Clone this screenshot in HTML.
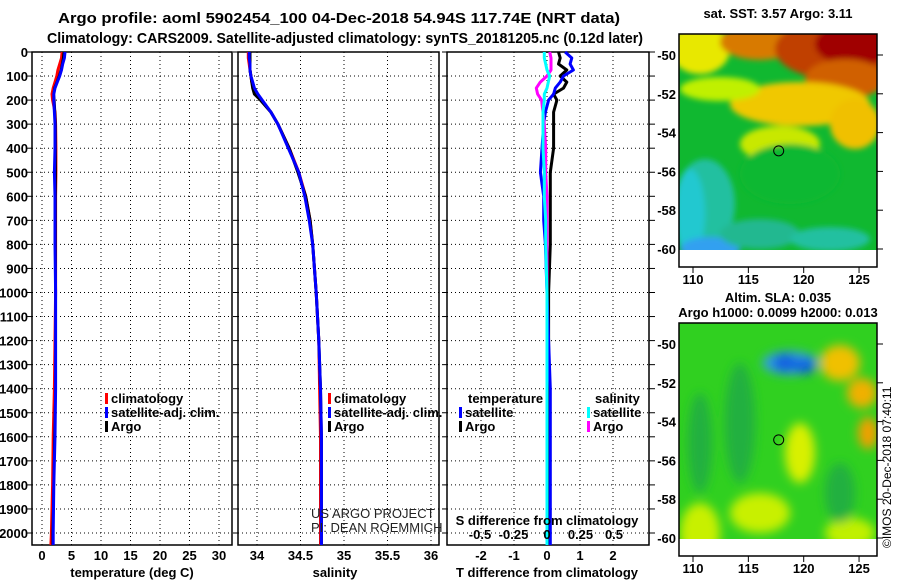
<!DOCTYPE html>
<html><head><meta charset="utf-8"><style>
html,body{margin:0;padding:0;background:#fff;}
svg{display:block;font-family:"Liberation Sans",sans-serif;}
.t{font-weight:bold;font-size:15px;fill:#000;}
.tk{font-weight:bold;font-size:13px;fill:#000;}
</style></head><body>
<svg id="c" width="900" height="580" viewBox="0 0 900 580">
<text class="t" x="58" y="23" textLength="562" lengthAdjust="spacingAndGlyphs">Argo profile: aoml 5902454_100 04-Dec-2018 54.94S 117.74E (NRT data)</text>
<text class="t" x="47" y="43" textLength="596" lengthAdjust="spacingAndGlyphs">Climatology: CARS2009. Satellite-adjusted climatology: synTS_20181205.nc (0.12d later)</text>
<g id="maps"></g>
<g id="plots"></g>
<text x="891" y="548" transform="rotate(-90 891 548)" font-size="12">©IMOS 20-Dec-2018 07:40:11</text>
</svg>
<script>
// ---- data ----
const depths = [0,25,50,75,100,125,150,175,200,250,300,400,500,600,700,800,1000,1200,1400,1600,1800,2000,2050];
const tempClim = [3.4,3.3,3.0,2.7,2.5,2.2,1.9,1.7,1.8,2.2,2.3,2.35,2.35,2.3,2.3,2.3,2.3,2.2,2.1,1.9,1.8,1.6,1.5];
const tempSat  = [3.9,3.8,3.5,3.3,3.0,2.6,2.2,2.0,2.0,2.1,2.2,2.2,2.1,2.2,2.2,2.2,2.3,2.3,2.3,2.2,2.0,1.9,1.9];
const tempArgo = [3.7,3.6,3.4,3.2,2.9,2.5,2.1,2.0,2.1,2.2,2.3,2.3,2.3,2.3,2.3,2.3,2.3,2.3,2.3,2.1,2.0,1.8,1.8];
const salClim  = [33.90,33.90,33.91,33.92,33.93,33.94,33.96,34.00,34.05,34.16,34.24,34.37,34.48,34.56,34.61,34.64,34.68,34.71,34.72,34.73,34.73,34.73,34.73];
const salSat   = [33.91,33.91,33.92,33.92,33.93,33.95,33.97,34.01,34.06,34.16,34.24,34.36,34.48,34.55,34.60,34.64,34.68,34.71,34.73,34.74,34.74,34.74,34.74];
const salArgo  = [33.92,33.92,33.92,33.92,33.93,33.94,33.95,33.97,34.04,34.16,34.24,34.37,34.47,34.56,34.61,34.64,34.68,34.71,34.73,34.74,34.74,34.74,34.74];
const dTSat    = [0.55,0.75,0.7,0.8,0.5,0.4,0.25,0.2,0.05,-0.05,-0.1,-0.15,-0.2,-0.1,-0.1,-0.05,0.0,0.05,0.1,0.1,0.1,0.1,0.1];
const dTArgo   = [0.35,0.4,0.35,0.6,0.4,0.6,0.5,0.2,0.3,0.2,0.2,0.2,0.1,0.1,0.1,0.1,0.05,0.05,0.05,0.05,0.05,0.05,0.05];
const dSSat    = [-0.02,-0.02,-0.01,0.0,0.02,0.01,0.0,-0.02,-0.02,-0.03,-0.03,-0.03,-0.02,-0.02,-0.01,-0.01,0.0,0.0,0.0,0.0,0.0,0.0,0.0];
const dSArgo   = [0.02,0.03,0.03,0.03,0.0,-0.05,-0.08,-0.07,-0.04,-0.03,-0.02,-0.01,-0.01,0.0,0.0,0.0,0.0,0.0,0.0,0.0,0.0,0.0,0.0];
const depthTicks = [0,100,200,300,400,500,600,700,800,900,1000,1100,1200,1300,1400,1500,1600,1700,1800,1900,2000];
const tempTicks = [0,5,10,15,20,25,30];
const salTicks = [34,34.5,35,35.5,36];
const salTickLabels = ["34","34.5","35","35.5","36"];
const dTTicks = [-2,-1,0,1,2];
const dSTicks = [-0.5,-0.25,0,0.25,0.5];
const dSTickLabels = ["-0.5","-0.25","0","0.25","0.5"];
const latTicks = [-50,-52,-54,-56,-58,-60];
const lonTicks = [110,115,120,125];

const NS="http://www.w3.org/2000/svg";
const svg=document.getElementById('c');
const plots=document.getElementById('plots');
function mk(tag,attrs,parent,text){const e=document.createElementNS(NS,tag);for(const k in attrs)e.setAttribute(k,attrs[k]);if(text!==undefined)e.textContent=text;(parent||plots).appendChild(e);return e;}
const y=d=>52+d*0.2405;

function panel(name,x0,x1,xs,ticks,labels,showDepth,rightTicks){
  const g=mk('g',{});
  
  
  ticks.forEach(t=>{const X=xs(t);
    const l=mk('line',{x1:X,x2:X,y1:52,y2:545,stroke:'#000','stroke-dasharray':'1 3','stroke-width':1},g);
    });
  depthTicks.forEach(d=>{const Y=y(d);
    const l=mk('line',{x1:x0,x2:x1,y1:Y,y2:Y,stroke:'#000','stroke-dasharray':'1 3','stroke-width':1},g);
    
    const tk=mk('line',{x1:x0-5,x2:x0,y1:Y,y2:Y,stroke:'#000'},g);
    
    if(rightTicks){const t2=mk('line',{x1:x1,x2:x1+6,y1:Y,y2:Y,stroke:'#000'},g);
      }
    if(showDepth){const tx=mk('text',{x:28,y:Y+5,'text-anchor':'end',class:'tk','font-size':'14'},g,String(d));
      }
  });
  if(labels){ticks.forEach((t,i)=>{const tx=mk('text',{x:xs(t),y:560,'text-anchor':'middle',class:'tk'},g,labels[i]);
    });}
  const r=mk('rect',{x:x0,y:52,width:x1-x0,height:493,fill:'none',stroke:'#000','stroke-width':1.5},g);
  
  return g;
}
function line(g,xs,vals,color,w,name){
  const p=vals.map((v,i)=>(i?'L':'M')+xs(v).toFixed(1)+','+y(depths[i]).toFixed(1)).join(' ');
  const e=mk('path',{d:p,fill:'none',stroke:color,'stroke-width':w,'stroke-linejoin':'round'},g);
  
}
function legend(g,x,y0,items,prefix){
  items.forEach((it,i)=>{const Y=y0+i*14;
    const r=mk('rect',{x:x,y:Y-10,width:3,height:11,fill:it[1]},g);
    
    const t=mk('text',{x:x+6,y:Y,class:'tk'},g,it[0]);
    });
}
// Panel 1 temperature
const xT=v=>42+v*5.9;
const g1=panel('temperature',32,232,xT,tempTicks,tempTicks.map(String),true,false);
line(g1,xT,tempClim,'#f00',3,'temp-climatology-line');
line(g1,xT,tempArgo,'#000',2.5,'temp-argo-line');
line(g1,xT,tempSat,'#00f',3,'temp-satellite-line');
legend(g1,105,403,[['climatology','#f00'],['satellite-adj. clim.','#00f'],['Argo','#000']],'temp');
let t=mk('text',{x:132,y:577,'text-anchor':'middle',class:'tk'},g1,'temperature (deg C)');

// Panel 2 salinity
const xS=v=>257+(v-34)*87;
const g2=panel('salinity',238,439,xS,salTicks,salTickLabels,false,false);
line(g2,xS,salClim,'#f00',3,'sal-climatology-line');
line(g2,xS,salArgo,'#000',3,'sal-argo-line');
line(g2,xS,salSat,'#00f',3,'sal-satellite-line');
legend(g2,328,403,[['climatology','#f00'],['satellite-adj. clim.','#00f'],['Argo','#000']],'sal');
t=mk('text',{x:335,y:577,'text-anchor':'middle',class:'tk'},g2,'salinity');

t=mk('text',{x:311,y:518,'font-size':'13',fill:'#222'},g2,'US ARGO PROJECT');

t=mk('text',{x:311,y:532,'font-size':'13',fill:'#222'},g2,'PI: DEAN ROEMMICH');

// Panel 3 differences
const xD=v=>547+v*33;
const xDS=v=>547+v*134;
const g3=panel('difference',447,649,xD,dTTicks,dTTicks.map(String),false,true);
line(g3,xD,dTArgo,'#000',3,'tdiff-argo-line');
line(g3,xD,dTSat,'#00f',3,'tdiff-satellite-line');
line(g3,xDS,dSArgo,'#f0f',3,'sdiff-argo-line');
line(g3,xDS,dSSat,'#0ff',3,'sdiff-satellite-line');
t=mk('text',{x:468,y:403,class:'tk'},g3,'temperature');
t=mk('text',{x:595,y:403,class:'tk'},g3,'salinity');
legend(g3,459,417,[['satellite','#00f'],['Argo','#000']],'tdiff');
legend(g3,587,417,[['satellite','#0ff'],['Argo','#f0f']],'sdiff');
t=mk('text',{x:547,y:525,'text-anchor':'middle',class:'tk'},g3,'S difference from climatology');

dSTicks.forEach((v,i)=>{const e=mk('text',{x:xDS(v),y:539,'text-anchor':'middle',class:'tk'},g3,dSTickLabels[i]);
  });
t=mk('text',{x:547,y:577,'text-anchor':'middle',class:'tk'},g3,'T difference from climatology');


// ---- maps ----
const maps=document.getElementById('maps');
function mapPanel(name,top,title,blobs,base,blur){
  const g=mk('g',{},maps);
  
  const latY=l=>top+21+(-50-l)*19.4;
  const lonX=l=>693+(l-110)*11.07;
  const id='clip'+name;
  const cp=mk('clipPath',{id:id},g);mk('rect',{x:679,y:top,width:198,height:latY(-60)+1-top},cp);
  const f=mk('filter',{id:'b'+name,x:'-20%',y:'-20%',width:'140%',height:'140%'},g);
  mk('feGaussianBlur',{stdDeviation:blur},f);
  const cg=mk('g',{'clip-path':'url(#'+id+')'},g);
  mk('rect',{x:679,y:top,width:198,height:220,fill:base},cg);
  const bg=mk('g',{filter:'url(#b'+name+')'},cg);
  blobs.forEach(b=>mk('ellipse',{cx:b[0],cy:top+b[1],rx:b[2],ry:b[3],fill:b[4]},bg));
  const fr=mk('rect',{x:679,y:top,width:198,height:233,fill:'none',stroke:'#000','stroke-width':1.5},g);
  
  latTicks.forEach(l=>{const Y=latY(l);mk('line',{x1:877,x2:883,y1:Y,y2:Y,stroke:'#000'},g);
    const e=mk('text',{x:676,y:Y+5,'text-anchor':'end',class:'tk'},g,String(l));
    });
  lonTicks.forEach(l=>{const X=lonX(l);mk('line',{x1:X,x2:X,y1:top+233,y2:top+239,stroke:'#000'},g);
    const e=mk('text',{x:X,y:top+250,'text-anchor':'middle',class:'tk'},g,String(l));
    });
  const m=mk('circle',{cx:lonX(117.74),cy:latY(-54.94),r:5,fill:'none',stroke:'#000'},g);
  
  title.forEach((s,i)=>{const ty=title.length===1?top-16:top-21+i*15;
    const e=mk('text',{x:778,y:ty,'text-anchor':'middle',class:'tk','font-size':'12'},g,s);
    });
}
mapPanel('sst-map',34,['sat. SST: 3.57 Argo: 3.11'],[
 [700,15,30,25,'#e8e800'],[760,8,40,18,'#d87a00'],[835,15,60,30,'#c04000'],[855,10,40,22,'#a00000'],[845,45,40,20,'#d06000'],
 [800,70,70,22,'#f0c800'],[855,90,25,25,'#f0c000'],[780,110,40,18,'#c8e800'],[720,55,40,12,'#c0f000'],
 [705,170,30,45,'#20c0a0'],[690,180,15,45,'#20c8d0'],[710,215,30,12,'#30a0f0'],[760,200,40,15,'#20b890'],[830,205,40,12,'#20c0a0'],[790,140,50,30,'#10b830']],'#10b830',3);
mapPanel('sla-map',323,['Altim. SLA: 0.035','Argo h1000: 0.0099 h2000: 0.013'],[
 [790,40,28,12,'#30a0e0'],[785,40,12,9,'#1060e0'],[805,43,10,8,'#1060e0'],[840,40,20,18,'#f0c000'],[868,110,10,16,'#f0a000'],[862,70,15,15,'#f0b000'],
 [800,130,15,30,'#d8f000'],[760,190,30,20,'#c8f000'],[700,210,20,30,'#c8f000'],[850,210,25,15,'#c0f000'],[700,120,12,50,'#20b040'],[740,100,15,60,'#20b040'],[840,170,15,30,'#20b040']],'#30d020',5);
</script>
</body></html>
